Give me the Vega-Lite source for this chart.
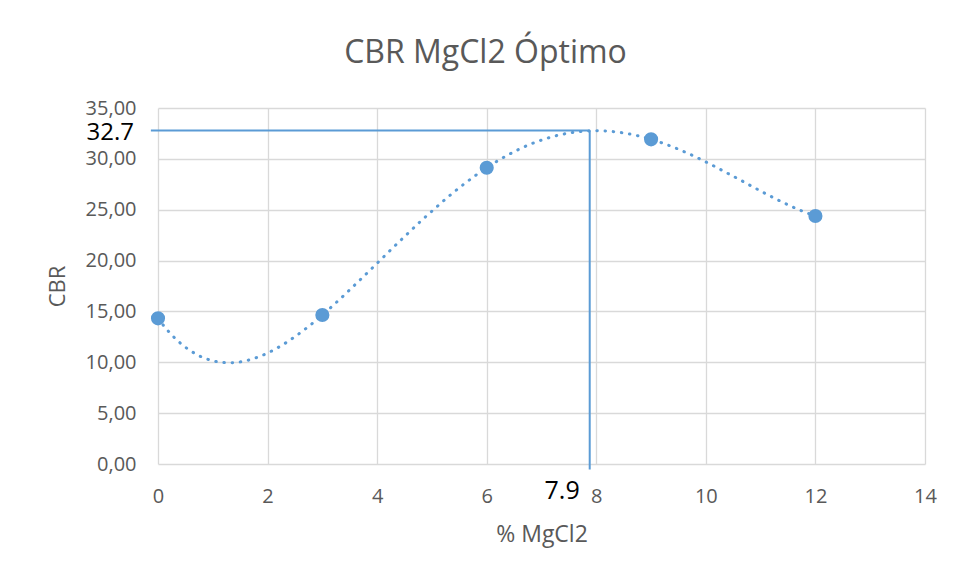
{
  "$schema": "https://vega.github.io/schema/vega-lite/v6.json",
  "autosize": "none",
  "width": 767,
  "height": 356,
  "padding": {"left": 158, "top": 108, "right": 30, "bottom": 113},
  "background": "white",
  "config": {
    "view": {"stroke": null},
    "font": "Open Sans"
  },
  "title": {
    "text": "CBR MgCl2 Óptimo",
    "font": "Open Sans",
    "fontSize": 32,
    "fontWeight": "normal",
    "color": "#595959",
    "anchor": "middle",
    "dx": -56,
    "offset": 28
  },
  "datasets": {
    "pts": [
      {"x": 0, "y": 14.32},
      {"x": 3, "y": 14.65},
      {"x": 6, "y": 29.13},
      {"x": 9, "y": 31.92},
      {"x": 12, "y": 24.38}
    ],
    "hline": [{"x": -0.13, "x2": 7.88, "y": 32.78}],
    "vline": [{"x": 7.88, "y": -0.55, "y2": 32.78}],
    "labels": [
      {"x": 0, "y": 32.78, "label": "32.7", "kind": "y"},
      {"x": 7.88, "y": 0, "label": "7.9", "kind": "x"}
    ]
  },
  "layer": [
    {
      "data": {"name": "pts"},
      "transform": [
        {"regression": "y", "on": "x", "method": "poly", "order": 4, "extent": [0, 12]}
      ],
      "mark": {"type": "line", "color": "#5B9BD5", "strokeWidth": 3, "strokeCap": "round", "strokeDash": [0.5, 7.7]},
      "encoding": {
        "x": {
          "field": "x", "type": "quantitative",
          "scale": {"domain": [0, 14], "nice": false, "zero": false},
          "axis": {
            "title": "% MgCl2",
            "values": [0, 2, 4, 6, 8, 10, 12, 14],
            "format": "d",
            "grid": true, "gridColor": "#D9D9D9", "gridWidth": 1.3, "gridOpacity": 1,
            "domain": false, "ticks": false,
            "labelFont": "Open Sans", "labelFontSize": 20, "labelColor": "#595959", "labelPadding": 22,
            "labelFlush": false, "labelOverlap": false,
            "titleFont": "Open Sans", "titleFontSize": 23, "titleFontWeight": "normal", "titleColor": "#595959", "titlePadding": 17
          }
        },
        "y": {
          "field": "y", "type": "quantitative",
          "scale": {"domain": [0, 35], "nice": false, "zero": false},
          "axis": {
            "title": "CBR",
            "values": [0, 5, 10, 15, 20, 25, 30, 35],
            "labelExpr": "replace(format(datum.value, '.2f'), '.', ',')",
            "grid": true, "gridColor": "#D9D9D9", "gridWidth": 1.3, "gridOpacity": 1,
            "domain": false, "ticks": false,
            "labelFont": "Open Sans", "labelFontSize": 20, "labelColor": "#595959", "labelPadding": 22,
            "labelFlush": false, "labelOverlap": false,
            "titleFont": "Open Sans", "titleFontSize": 22, "titleFontWeight": "normal", "titleColor": "#595959", "titlePadding": 16
          }
        }
      }
    },
    {
      "data": {"name": "pts"},
      "mark": {"type": "point", "filled": true, "opacity": 1, "size": 200, "color": "#5B9BD5"},
      "encoding": {
        "x": {"field": "x", "type": "quantitative"},
        "y": {"field": "y", "type": "quantitative"}
      }
    },
    {
      "data": {"name": "hline"},
      "mark": {"type": "rule", "color": "#5B9BD5", "strokeWidth": 2},
      "encoding": {
        "x": {"field": "x", "type": "quantitative"},
        "x2": {"field": "x2"},
        "y": {"field": "y", "type": "quantitative"}
      }
    },
    {
      "data": {"name": "vline"},
      "mark": {"type": "rule", "color": "#5B9BD5", "strokeWidth": 2},
      "encoding": {
        "x": {"field": "x", "type": "quantitative"},
        "y": {"field": "y", "type": "quantitative"},
        "y2": {"field": "y2"}
      }
    },
    {
      "data": {"name": "labels"},
      "transform": [{"filter": "datum.kind == 'y'"}],
      "mark": {"type": "text", "font": "Open Sans", "fontSize": 24, "color": "#000000", "align": "right", "baseline": "middle", "dx": -24, "dy": 2},
      "encoding": {
        "x": {"field": "x", "type": "quantitative"},
        "y": {"field": "y", "type": "quantitative"},
        "text": {"field": "label"}
      }
    },
    {
      "data": {"name": "labels"},
      "transform": [{"filter": "datum.kind == 'x'"}],
      "mark": {"type": "text", "font": "Open Sans", "fontSize": 25, "color": "#000000", "align": "right", "baseline": "middle", "dx": -10, "dy": 27},
      "encoding": {
        "x": {"field": "x", "type": "quantitative"},
        "y": {"field": "y", "type": "quantitative"},
        "text": {"field": "label"}
      }
    }
  ]
}
